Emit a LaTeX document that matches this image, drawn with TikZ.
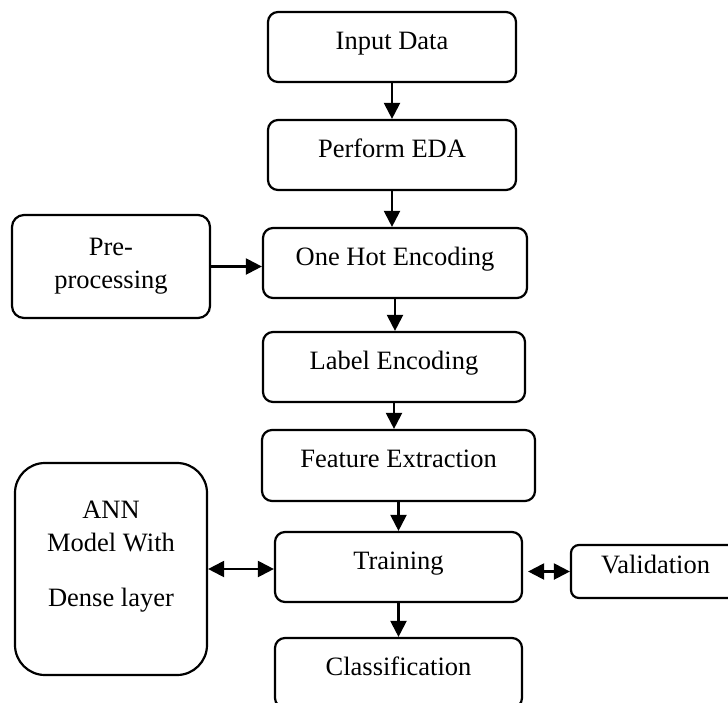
\documentclass[tikz,border=0pt]{standalone}
\usepackage{fontspec}
\setmainfont{Liberation Serif}
\usetikzlibrary{arrows.meta}
\tikzset{
  box/.style={draw, line width=2.2pt, rounded corners=10pt, inner sep=0pt,
    text height=0.7em, text depth=0.3em, align=center},
  conn/.style={line width=2.2pt, -{Triangle[length=16pt,width=16pt]}},
  dconn/.style={line width=2.2pt, {Triangle[length=16pt,width=16pt]}-{Triangle[length=16pt,width=16pt]}}
}
\begin{document}
\begin{tikzpicture}[x=1pt, y=-1pt, font=\fontsize{26.5}{33}\selectfont]
\clip (0,0) rectangle (728,702);
\fill[white] (0,0) rectangle (728,702);
\node[box, minimum width=248pt, minimum height=70pt] (inp) at (392,47) {Input Data};
\node[box, minimum width=248pt, minimum height=70pt] (eda) at (392,155) {Perform EDA};
\node[box, minimum width=264pt, minimum height=70pt] (ohe) at (395,263) {One Hot Encoding};
\node[box, rounded corners=12pt, minimum width=198pt, minimum height=103pt, text height=, text depth=] (pre) at (111,266.5) {Pre-\\processing};
\node[box, minimum width=262pt, minimum height=70pt] (lab) at (394,367) {Label Encoding};
\node[box, minimum width=273pt, minimum height=71pt] (fea) at (398.5,465.5) {Feature Extraction};
\node[box, minimum width=247pt, minimum height=70pt] (tra) at (398.5,567) {Training};
\node[box, minimum width=247pt, minimum height=70pt] (cls) at (398.5,673) {Classification};
\node[box, rounded corners=30pt, minimum width=192pt, minimum height=212pt] (ann) at (111,569) {};
\node[align=center, inner sep=0pt] (annlabel) at (111,557) {ANN\\Model With\\[22pt]Dense layer};
\node[box, rounded corners=8pt, minimum width=169pt, minimum height=53pt] (val) at (655.5,571.5) {Validation};

\draw[conn] (inp.south) -- (inp.south |- eda.north);
\draw[conn] (eda.south) -- (eda.south |- ohe.north);
\draw[conn] (ohe.south) -- (ohe.south |- lab.north);
\draw[conn] (lab.south) -- (lab.south |- fea.north);
\draw[conn] (fea.south) -- (fea.south |- tra.north);
\draw[conn] (tra.south) -- (tra.south |- cls.north);
\draw[conn] (pre.east) -- (pre.east -| ohe.west);
\draw[dconn] (ann.east) -- (ann.east -| tra.west);
\coordinate (tv) at ([xshift=5pt]val.west -| tra.east);
\draw[dconn] (tv) -- (val.west);
\end{tikzpicture}
\end{document}
